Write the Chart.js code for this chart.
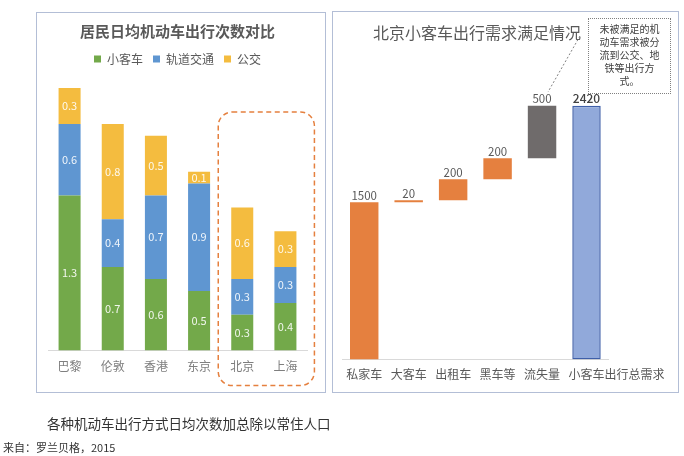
<!DOCTYPE html>
<html>
<head>
<meta charset="utf-8">
<script src="https://cdn.jsdelivr.net/npm/chart.js@4.4.1/dist/chart.umd.min.js"></script>
<style>
  body { margin: 0; background: #fff; font-family: "Noto Sans CJK SC", "Noto Sans", sans-serif; }
  #page { position: relative; width: 684px; height: 456px; overflow: hidden; }
  .panel { position: absolute; border: 1px solid #B3BED6; }
  .panel canvas { position: absolute; left: 0; top: 0; }
  #note { position: absolute; left: 588px; top: 18px; width: 81px; height: 71px; border: 1px dotted #808080;
          font-size: 10px; line-height: 13px; color: #404040; text-align: center; padding-top: 3px; box-sizing: content-box; }
  .txt { position: absolute; color: #333; white-space: nowrap; }
</style>
</head>
<body>
<div id="page">
  <div class="panel" style="left:36px;top:12px;width:288px;height:379px;">
    <canvas id="tripChart" width="288" height="379"></canvas>
  </div>
  <div class="panel" style="left:332px;top:11px;width:345px;height:380px;">
    <canvas id="demandChart" width="345" height="380"></canvas>
  </div>
  <svg style="position:absolute;left:0;top:0" width="684" height="456">
    <line x1="580" y1="36" x2="548" y2="92" stroke="#808080" stroke-width="1" stroke-dasharray="2,2"/>
  </svg>
  <div id="note">未被满足的机<br>动车需求被分<br>流到公交、地<br>铁等出行方<br>式。</div>
  <div class="txt" style="left:47px;top:413px;font-size:13.5px;">各种机动车出行方式日均次数加总除以常住人口</div>
  <div class="txt" style="left:3px;top:439px;font-size:11px;">来自：罗兰贝格，2015</div>
</div>
<script>
const FONT = '"Noto Sans CJK SC", "Noto Sans", sans-serif';

// left chart: daily motor trips per resident
const cities = ['巴黎', '伦敦', '香港', '东京', '北京', '上海'];
const carTrips = [1.3, 0.7, 0.6, 0.5, 0.3, 0.4];
const railTrips = [0.6, 0.4, 0.7, 0.9, 0.3, 0.3];
const busTrips = [0.3, 0.8, 0.5, 0.1, 0.6, 0.3];

// right chart: Beijing car trip demand (waterfall)
const demandLabels = ['私家车', '大客车', '出租车', '黑车等', '流失量', '小客车出行总需求'];
const demandSteps = [1500, 20, 200, 200, 500];
const demandTotal = 2420;

const segmentLabels = {
    id: 'segmentLabels',
    afterDatasetsDraw(chart) {
        const ctx = chart.ctx;
        ctx.save();
        ctx.font = '11px ' + FONT;
        ctx.fillStyle = 'rgba(255,255,255,0.9)';
        ctx.textAlign = 'center';
        ctx.textBaseline = 'middle';
        chart.data.datasets.forEach((ds, i) => {
            chart.getDatasetMeta(i).data.forEach((bar, j) => {
                const p = bar.getProps(['x', 'y', 'base'], true);
                ctx.fillText(String(ds.data[j]), p.x, (p.y + p.base) / 2);
            });
        });
        ctx.restore();
    }
};

const dashedBox = {
    id: 'dashedBox',
    afterDraw(chart) {
        const ctx = chart.ctx;
        const xs = chart.scales.x;
        const area = chart.chartArea;
        const left = xs.getPixelForValue(4) - 24;
        const right = xs.getPixelForValue(5) + 29;
        const top = area.top + 37;
        const bottom = area.bottom + 35;
        ctx.save();
        ctx.strokeStyle = '#E5803F';
        ctx.lineWidth = 1.5;
        ctx.setLineDash([5, 3.5]);
        ctx.beginPath();
        ctx.roundRect(left, top, right - left, bottom - top, 14);
        ctx.stroke();
        ctx.restore();
    }
};

new Chart(document.getElementById('tripChart'), {
    type: 'bar',
    data: {
        labels: cities,
        datasets: [
            { label: '小客车', data: carTrips, backgroundColor: '#73A94A' },
            { label: '轨道交通', data: railTrips, backgroundColor: '#5F96D1' },
            { label: '公交', data: busTrips, backgroundColor: '#F4BC3F' }
        ]
    },
    options: {
        responsive: false,
        animation: false,
        barPercentage: 0.51,
        categoryPercentage: 1,
        layout: { padding: { left: 11, right: 18, top: 0, bottom: 9 } },
        plugins: {
            title: {
                display: true,
                text: '居民日均机动车出行次数对比',
                color: '#595959',
                font: { family: FONT, size: 15, weight: 'bold' },
                padding: { top: 9, bottom: 3 }
            },
            legend: {
                labels: {
                    boxWidth: 7, boxHeight: 7, padding: 10,
                    color: '#595959',
                    font: { family: FONT, size: 12 }
                }
            },
            tooltip: { enabled: false }
        },
        scales: {
            x: {
                stacked: true,
                grid: { display: false, drawTicks: false },
                border: { color: '#D9D9D9' },
                ticks: { color: '#7F7F7F', padding: 9, font: { family: FONT, size: 12 } }
            },
            y: { stacked: true, display: false, min: 0, max: 2.31 }
        }
    },
    plugins: [segmentLabels, dashedBox]
});

// waterfall ranges from the step values
const ranges = [];
let running = 0;
demandSteps.forEach(v => { ranges.push([running, running + v]); running += v; });
ranges.push([0, demandTotal]);
const rangeValues = demandSteps.concat([demandTotal]);

const topLabels = {
    id: 'topLabels',
    afterDatasetsDraw(chart) {
        const ctx = chart.ctx;
        ctx.save();
        ctx.textAlign = 'center';
        ctx.textBaseline = 'bottom';
        chart.getDatasetMeta(0).data.forEach((bar, i) => {
            const last = i === rangeValues.length - 1;
            ctx.font = (last ? '500 12px ' : '11.5px ') + FONT;
            ctx.fillStyle = last ? '#404040' : '#595959';
            ctx.fillText(String(rangeValues[i]), bar.x, bar.y - 1);
        });
        ctx.restore();
    }
};

new Chart(document.getElementById('demandChart'), {
    type: 'bar',
    data: {
        labels: demandLabels,
        datasets: [{
            data: ranges,
            backgroundColor: ['#E5803F', '#E5803F', '#E5803F', '#E5803F', '#6F6B6B', '#91A9DA'],
            borderColor: ['#E5803F', '#E5803F', '#E5803F', '#E5803F', '#6F6B6B', '#3F5FA8'],
            borderWidth: [0, 0, 0, 0, 0, 1.5],
            borderSkipped: false
        }]
    },
    options: {
        responsive: false,
        animation: false,
        barPercentage: 0.64,
        categoryPercentage: 1,
        layout: { padding: { left: 9, right: 66, top: 0, bottom: 2 } },
        plugins: {
            title: {
                display: true,
                text: '北京小客车出行需求满足情况',
                color: '#595959',
                font: { family: FONT, size: 16, weight: 'normal' },
                padding: { top: 11, bottom: 10 }
            },
            legend: { display: false },
            tooltip: { enabled: false }
        },
        scales: {
            x: {
                grid: { display: false, drawTicks: false },
                border: { color: '#D9D9D9' },
                ticks: {
                    autoSkip: false, maxRotation: 0, padding: 8,
                    color: '#595959',
                    font: { family: FONT, size: 12 },
                    callback: (v, i) => i === demandLabels.length - 1 ? '\u3000\u3000\u3000\u3000\u3000' + demandLabels[i] : demandLabels[i]
                }
            },
            y: { display: false, min: 0, max: 2930 }
        }
    },
    plugins: [topLabels]
});
</script>
</body>
</html>
